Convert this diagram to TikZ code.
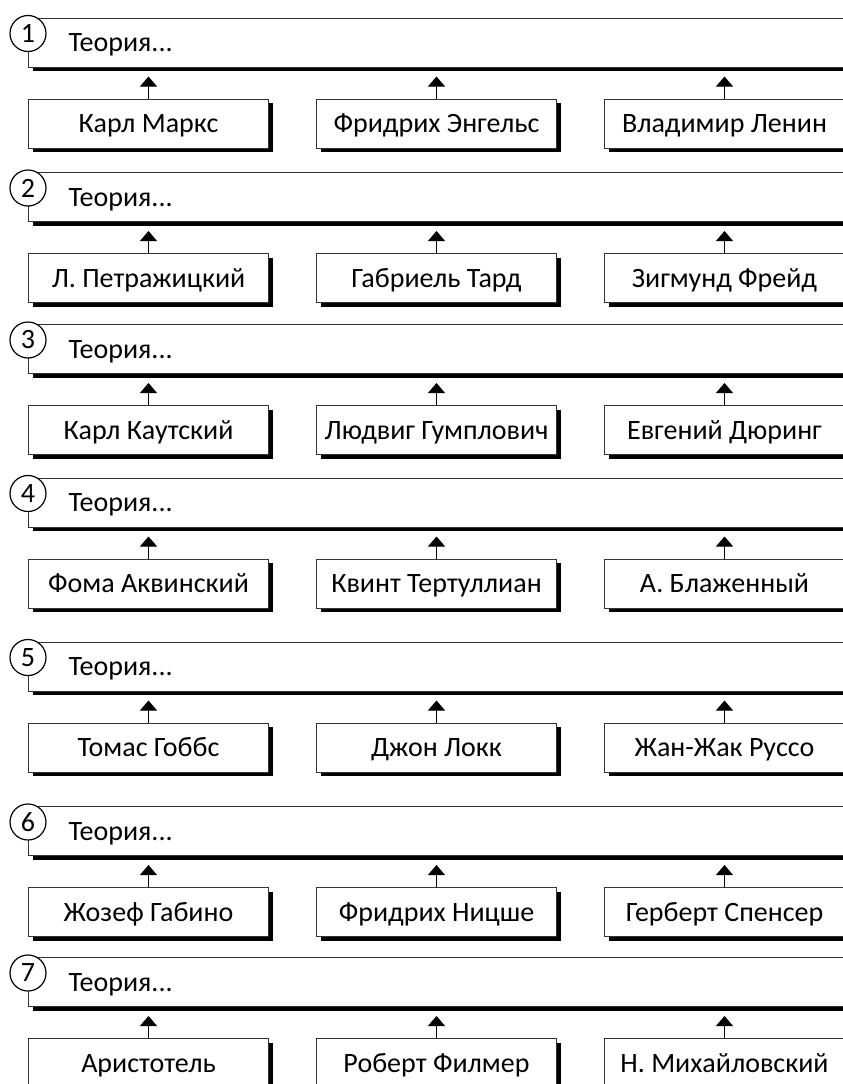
\documentclass[tikz,border=0pt]{standalone}
\usepackage{fontspec}
\setmainfont{Carlito}
\usepackage{tikz}
\usetikzlibrary{ arrows.meta, positioning, shadows }
\tikzset{
>={Triangle[width=17pt,length=10pt]}, % filled arrow heads
every node/.style={font=\fontsize{28pt}{34pt}\selectfont},
boxshadow/.style={drop shadow={shadow xshift=4pt, shadow yshift=-4pt, fill=black, opacity=1}},
theory/.style={draw=black!80, line width=1pt, fill=white, anchor=north west, minimum height=49pt,
  inner xsep=40pt, inner ysep=0pt, text width=734.5pt, text height=18pt, text depth=0pt,
  align=left, boxshadow}, % wide box on top
person/.style={draw=black!80, line width=1pt, fill=white, minimum width=240pt, minimum height=49pt,
  inner sep=0pt, text height=18pt, text depth=0pt, boxshadow}, % small box for each name
numcirc/.style={circle, draw, line width=1.2pt, fill=white, minimum size=36pt, inner sep=0pt},
}

\begin{document}
\begin{tikzpicture}[x=1pt,y=1pt]
  \clip (0,0) rectangle (843,-1084); % crop like the page

  % group 1
  \node[theory] (t1) at (28,-17.5) {Теория...};
  \node[numcirc, yshift=-16pt] (n1) at (t1.north west) {1};
  \node[person, below right=31pt and 0pt of t1.south west] (p1a) {Карл Маркс};
  \node[person, right=47pt of p1a] (p1b) {Фридрих Энгельс};
  \node[person, right=47pt of p1b] (p1c) {Владимир Ленин};

  % group 2
  \node[theory] (t2) at (28,-172) {Теория...};
  \node[numcirc, yshift=-16pt] (n2) at (t2.north west) {2};
  \node[person, below right=31pt and 0pt of t2.south west] (p2a) {Л. Петражицкий};
  \node[person, right=47pt of p2a] (p2b) {Габриель Тард};
  \node[person, right=47pt of p2b] (p2c) {Зигмунд Фрейд};

  % group 3
  \node[theory] (t3) at (28,-324) {Теория...};
  \node[numcirc, yshift=-16pt] (n3) at (t3.north west) {3};
  \node[person, below right=31pt and 0pt of t3.south west] (p3a) {Карл Каутский};
  \node[person, right=47pt of p3a] (p3b) {Людвиг Гумплович};
  \node[person, right=47pt of p3b] (p3c) {Евгений Дюринг};

  % group 4
  \node[theory] (t4) at (28,-477.5) {Теория...};
  \node[numcirc, yshift=-16pt] (n4) at (t4.north west) {4};
  \node[person, below right=31pt and 0pt of t4.south west] (p4a) {Фома Аквинский};
  \node[person, right=47pt of p4a] (p4b) {Квинт Тертуллиан};
  \node[person, right=47pt of p4b] (p4c) {А. Блаженный};

  % group 5
  \node[theory] (t5) at (28,-641.5) {Теория...};
  \node[numcirc, yshift=-16pt] (n5) at (t5.north west) {5};
  \node[person, below right=31pt and 0pt of t5.south west] (p5a) {Томас Гоббс};
  \node[person, right=47pt of p5a] (p5b) {Джон Локк};
  \node[person, right=47pt of p5b] (p5c) {Жан-Жак Руссо};

  % group 6
  \node[theory] (t6) at (28,-806) {Теория...};
  \node[numcirc, yshift=-16pt] (n6) at (t6.north west) {6};
  \node[person, below right=31pt and 0pt of t6.south west] (p6a) {Жозеф Габино};
  \node[person, right=47pt of p6a] (p6b) {Фридрих Ницше};
  \node[person, right=47pt of p6b] (p6c) {Герберт Спенсер};

  % group 7
  \node[theory] (t7) at (28,-957) {Теория...};
  \node[numcirc, yshift=-16pt] (n7) at (t7.north west) {7};
  \node[person, below right=31pt and 0pt of t7.south west] (p7a) {Аристотель};
  \node[person, right=47pt of p7a] (p7b) {Роберт Филмер};
  \node[person, right=47pt of p7b] (p7c) {Н. Михайловский};

  \path[->, line width=1pt, shorten >=9pt]
  (p1a) edge (p1a |- t1.south) (p1b) edge (p1b |- t1.south) (p1c) edge (p1c |- t1.south)
  (p2a) edge (p2a |- t2.south) (p2b) edge (p2b |- t2.south) (p2c) edge (p2c |- t2.south)
  (p3a) edge (p3a |- t3.south) (p3b) edge (p3b |- t3.south) (p3c) edge (p3c |- t3.south)
  (p4a) edge (p4a |- t4.south) (p4b) edge (p4b |- t4.south) (p4c) edge (p4c |- t4.south)
  (p5a) edge (p5a |- t5.south) (p5b) edge (p5b |- t5.south) (p5c) edge (p5c |- t5.south)
  (p6a) edge (p6a |- t6.south) (p6b) edge (p6b |- t6.south) (p6c) edge (p6c |- t6.south)
  (p7a) edge (p7a |- t7.south) (p7b) edge (p7b |- t7.south) (p7c) edge (p7c |- t7.south);
\end{tikzpicture}
\end{document}
